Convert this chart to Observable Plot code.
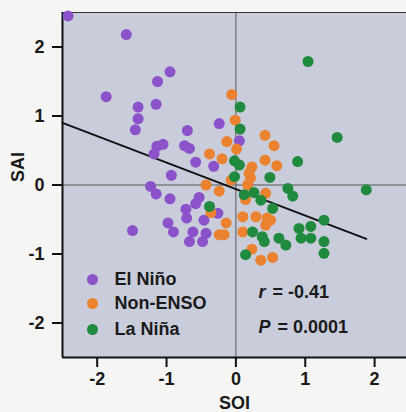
<!DOCTYPE html>
<html>
<head>
<meta charset="utf-8">
<script src="https://cdn.jsdelivr.net/npm/d3@7"></script>
<script src="https://cdn.jsdelivr.net/npm/@observablehq/plot@0.6"></script>
<style>
  html, body { margin: 0; padding: 0; background: #f5f5f3; }
  #chart { width: 406px; height: 412px; overflow: hidden; }
  svg { font-family: "Liberation Sans", Arial, sans-serif; }
</style>
</head>
<body>
<div id="chart"></div>
<script>
// El Niño years
const elNinoSOI = [-2.42, -1.58, -0.95, -1.13, -1.87, -1.15, -1.41, -1.41, -1.45, -0.70, -0.24, -1.14, -1.05, -1.18, -0.74, -0.67, -0.58, -0.32, 0.05, -0.93, -1.23, -1.15, -0.95, -0.53, -0.58, -0.72, -0.71, -0.46, -0.26, -0.98, -0.90, -1.49, -0.62, -0.43, -0.67, -0.48];
const elNinoSAI = [2.45, 2.18, 1.64, 1.50, 1.28, 1.17, 1.13, 0.96, 0.80, 0.79, 0.89, 0.56, 0.59, 0.45, 0.57, 0.53, 0.33, 0.27, 0.64, 0.14, -0.02, -0.13, -0.20, -0.18, -0.27, -0.35, -0.48, -0.51, -0.41, -0.55, -0.68, -0.66, -0.68, -0.70, -0.82, -0.82];
// Non-ENSO years
const nonEnsoSOI = [-0.06, -0.01, 0.42, -0.13, 0.55, 0.01, -0.38, -0.20, 0.42, 0.59, 0.23, 0.19, 0.21, -0.07, -0.43, 0.17, -0.24, 0.43, 0.14, -0.36, -0.14, -0.24, -0.17, 0.10, 0.29, 0.45, 0.50, 0.43, 0.10, 0.23, 0.36, 0.53];
const nonEnsoSAI = [1.31, 0.94, 0.72, 0.63, 0.57, 0.52, 0.45, 0.38, 0.36, 0.28, 0.26, 0.17, 0.10, 0.07, 0.00, 0.00, -0.09, -0.12, -0.21, -0.40, -0.55, -0.72, -0.72, -0.46, -0.46, -0.48, -0.51, -0.58, -0.68, -0.93, -1.09, -1.05];
// La Niña years
const laNinaSOI = [1.04, 0.06, 0.06, 1.46, -0.02, 0.05, 0.89, -0.02, 0.49, 0.75, 0.82, 1.88, 0.26, 0.12, 0.36, -0.38, 0.53, 0.24, 0.38, 0.41, 0.62, 0.72, 0.91, 1.08, 0.94, 1.08, 1.27, 1.27, 1.27, 0.14];
const laNinaSAI = [1.79, 1.13, 0.81, 0.69, 0.35, 0.29, 0.34, 0.12, 0.11, -0.05, -0.16, -0.07, -0.11, -0.14, -0.22, -0.31, -0.34, -0.68, -0.75, -0.82, -0.77, -0.87, -0.63, -0.60, -0.77, -0.77, -0.51, -0.82, -0.99, -1.01];

const phases = ["El Niño", "Non-ENSO", "La Niña"];
const phaseColors = ["#8c52c9", "#ea8230", "#208a3e"];
const ticks = [-2, -1, 0, 1, 2];
// regression line end points
const fitSOI = [-2.5, 1.88];
const fitSAI = [0.90, -0.78];
const statR = "-0.41";
const statP = "0.0001";

const rows = [
  ...elNinoSOI.map((x, i) => ({soi: x, sai: elNinoSAI[i], phase: phases[0]})),
  ...nonEnsoSOI.map((x, i) => ({soi: x, sai: nonEnsoSAI[i], phase: phases[1]})),
  ...laNinaSOI.map((x, i) => ({soi: x, sai: laNinaSAI[i], phase: phases[2]}))
];
const fit = fitSOI.map((x, i) => ({soi: x, sai: fitSAI[i]}));

const legendDy = [-78, -54, -28];
const legendMarks = phases.flatMap((p, i) => [
  Plot.dot([p], {frameAnchor: "bottom-left", dx: 30, dy: legendDy[i], r: 5.5, fill: phaseColors[i]}),
  Plot.text([p], {frameAnchor: "bottom-left", dx: 52, dy: legendDy[i], text: d => d, textAnchor: "start", lineAnchor: "middle", fontSize: 18, fontWeight: "bold", fill: "#1a1a1a"})
]);

const chart = Plot.plot({
  width: 406,
  height: 412,
  marginLeft: 62,
  marginRight: 0,
  marginTop: 12,
  marginBottom: 55,
  style: {background: "transparent", fontFamily: "Liberation Sans, Arial, sans-serif"},
  x: {domain: [-2.5, 2.46]},
  y: {domain: [-2.5, 2.5]},
  color: {domain: phases, range: phaseColors},
  marks: [
    Plot.frame({fill: "#c9cddb", stroke: null}),
    Plot.ruleX([0], {stroke: "#555", strokeWidth: 1}),
    Plot.ruleY([0], {stroke: "#555", strokeWidth: 1}),
    Plot.ruleY([2.5], {stroke: "#333", strokeWidth: 1}),
    Plot.ruleX([-2.5], {stroke: "#111", strokeWidth: 2}),
    Plot.ruleY([-2.5], {stroke: "#111", strokeWidth: 2}),
    Plot.axisX(ticks, {tickSize: 10, tickPadding: 5, tickFormat: d => String(d), fontSize: 18, fontWeight: "bold", stroke: "#111", strokeWidth: 2, label: null, fill: "#1a1a1a"}),
    Plot.axisY(ticks, {tickSize: 10, tickPadding: 8, tickFormat: d => String(d), fontSize: 18, fontWeight: "bold", stroke: "#111", strokeWidth: 2, label: null, fill: "#1a1a1a"}),
    Plot.text(["SOI"], {frameAnchor: "bottom", dx: 0, dy: 46, text: d => d, fontSize: 18, fontWeight: "bold", lineAnchor: "middle", fill: "#1a1a1a"}),
    Plot.text(["SAI"], {frameAnchor: "left", dx: -44, dy: -3, text: d => d, fontSize: 18, fontWeight: "bold", rotate: -90, lineAnchor: "middle", fill: "#1a1a1a"}),
    Plot.line(fit, {x: "soi", y: "sai", stroke: "#111", strokeWidth: 2}),
    Plot.dot(rows, {x: "soi", y: "sai", fill: "phase", r: 5.5}),
    ...legendMarks,
    Plot.text(["r"], {frameAnchor: "bottom-left", dx: 196, dy: -65, text: d => d, textAnchor: "start", lineAnchor: "middle", fontSize: 18, fontWeight: "bold", fontStyle: "italic", fill: "#1a1a1a"}),
    Plot.text([statR], {frameAnchor: "bottom-left", dx: 210, dy: -65, text: d => "= " + d, textAnchor: "start", lineAnchor: "middle", fontSize: 18, fontWeight: "bold", fill: "#1a1a1a"}),
    Plot.text(["P"], {frameAnchor: "bottom-left", dx: 196, dy: -30, text: d => d, textAnchor: "start", lineAnchor: "middle", fontSize: 18, fontWeight: "bold", fontStyle: "italic", fill: "#1a1a1a"}),
    Plot.text([statP], {frameAnchor: "bottom-left", dx: 215, dy: -30, text: d => "= " + d, textAnchor: "start", lineAnchor: "middle", fontSize: 18, fontWeight: "bold", fill: "#1a1a1a"})
  ]
});
document.getElementById("chart").appendChild(chart);
</script>
</body>
</html>
